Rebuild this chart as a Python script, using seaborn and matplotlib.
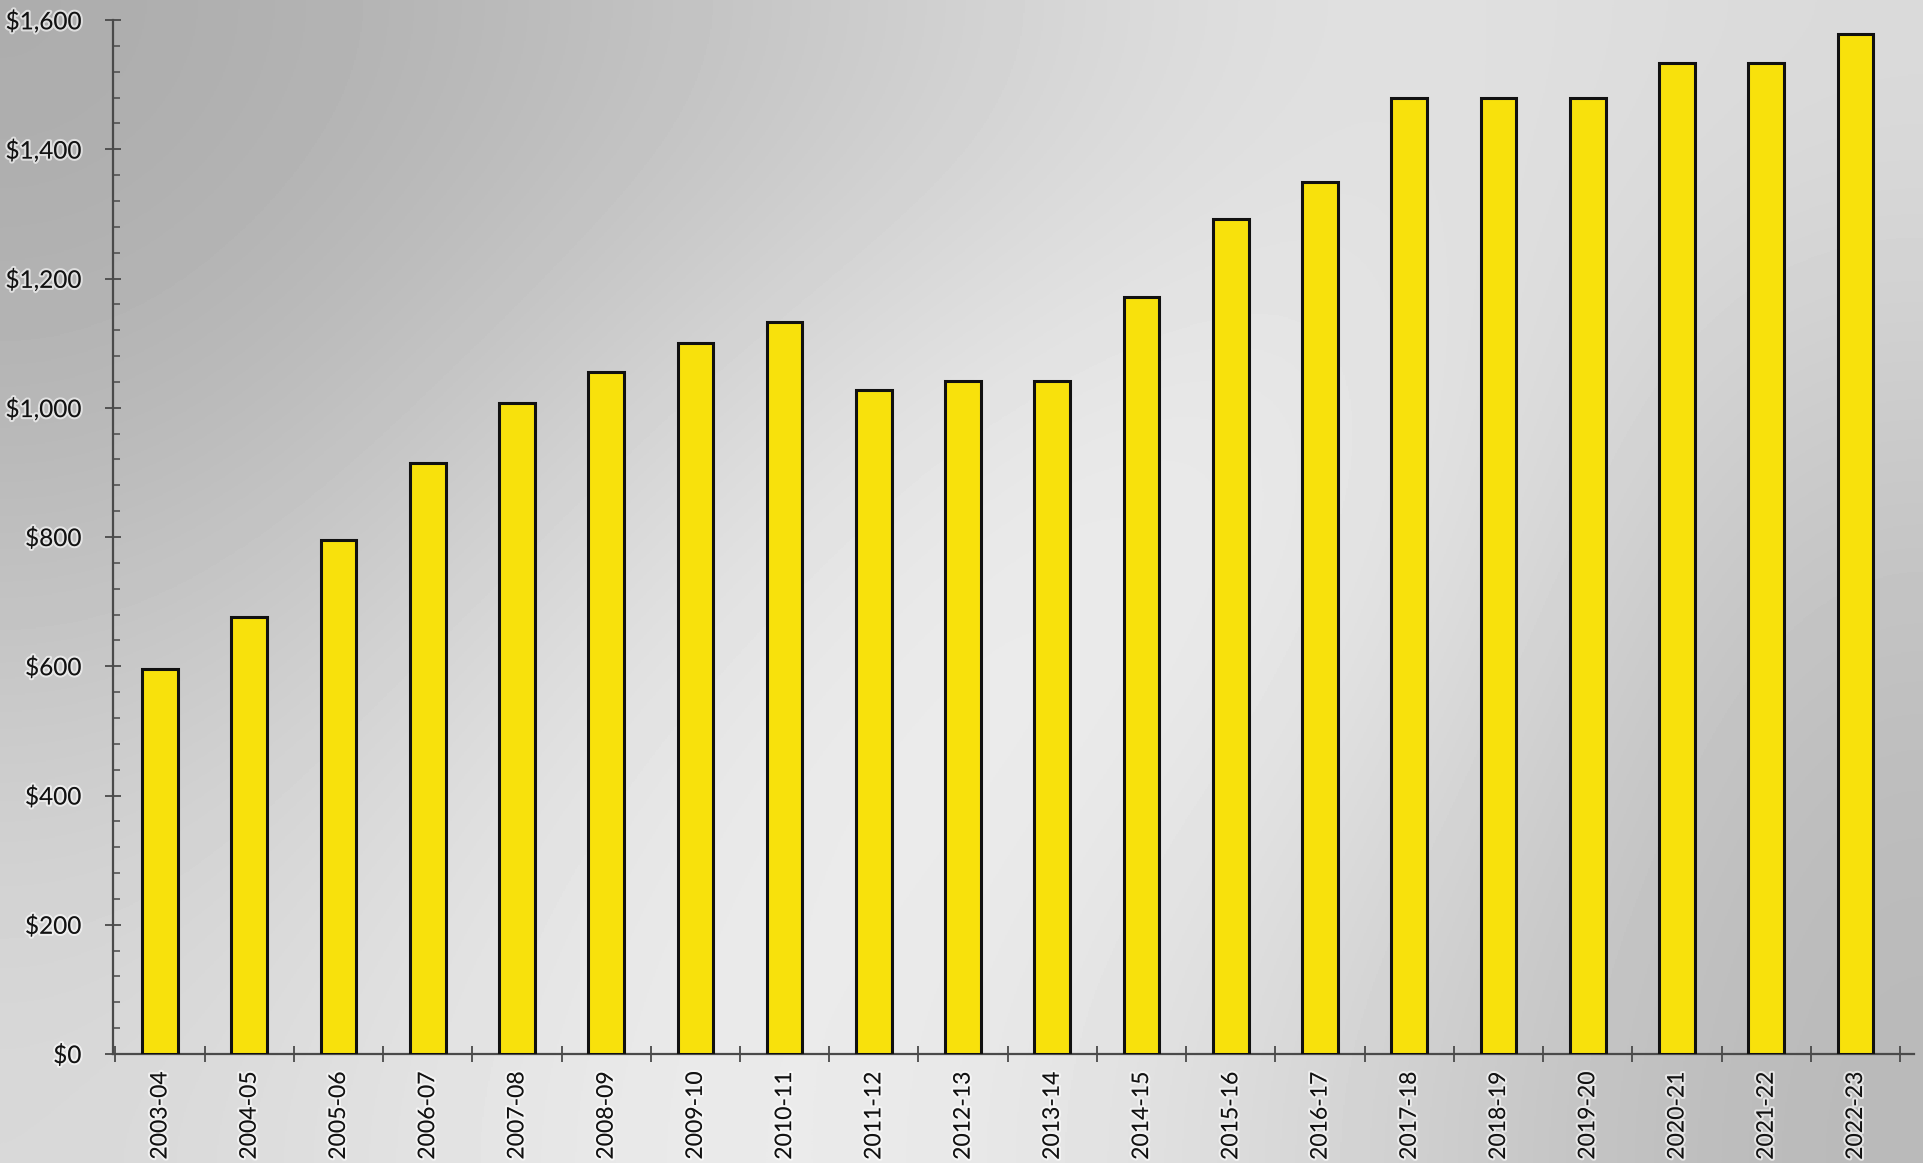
import numpy as np
import pandas as pd
import matplotlib
matplotlib.use("Agg")
import matplotlib.pyplot as plt
import matplotlib.patheffects as pe
from matplotlib.ticker import MultipleLocator, FuncFormatter
import seaborn as sns

years = ["2003-04", "2004-05", "2005-06", "2006-07", "2007-08", "2008-09", "2009-10",
         "2010-11", "2011-12", "2012-13", "2013-14", "2014-15", "2015-16", "2016-17",
         "2017-18", "2018-19", "2019-20", "2020-21", "2021-22", "2022-23"]
amounts = [595, 676, 796, 915, 1008, 1056, 1100, 1132, 1028, 1041, 1041, 1172,
           1292, 1350, 1480, 1480, 1480, 1533, 1533, 1579]
y_ticks = [0, 200, 400, 600, 800, 1000, 1200, 1400, 1600]

df = pd.DataFrame({"year": years, "amount": amounts})

plt.rcParams['font.family'] = ['Lato', 'DejaVu Sans']

W, H = 1924, 1163
fig = plt.figure(figsize=(W / 100, H / 100), dpi=100)

# background gradient (scanned grey look)
bg = fig.add_axes([0, 0, 1, 1], zorder=-10)
grid = np.array([
    [172, 188, 208, 228, 218],
    [182, 208, 234, 238, 200],
    [202, 228, 240, 228, 188],
    [216, 234, 236, 212, 184],
]) / 255.0
bg.imshow(grid, cmap="gray", vmin=0, vmax=1, interpolation="bicubic",
          extent=[0, 1, 0, 1], aspect="auto")
bg.set_axis_off()

ax = fig.add_axes([0.0587, 0.0937, 0.9363, 0.8891])
ax.set_facecolor("none")

sns.barplot(data=df, x="year", y="amount", color="#F8E10C", saturation=1,
            edgecolor="#111111", linewidth=2.2, width=0.4, ax=ax, zorder=3)

ax.set_xlim(-0.527, 19.66)
ax.set_ylim(0, 1600)
ax.set_xlabel("")
ax.set_ylabel("")

for s in ["top", "right"]:
    ax.spines[s].set_visible(False)
for s in ["left", "bottom"]:
    ax.spines[s].set_color("#4a4a4a")
    ax.spines[s].set_linewidth(1.6)

ax.set_yticks(y_ticks)
ax.yaxis.set_major_formatter(FuncFormatter(lambda v, p: f"${int(v):,}"))
ax.yaxis.set_minor_locator(MultipleLocator(40))
ax.tick_params(axis="y", which="major", direction="inout", length=11.5, width=1.3,
               color="#4a4a4a", pad=17, labelsize=17.5, labelcolor="#111111")
ax.tick_params(axis="y", which="minor", direction="in", length=5, width=1.1,
               color="#4a4a4a")

ax.set_xticks(range(len(years)))
ax.set_xticklabels(years, rotation=90, va="top", ha="center")
ax.set_xticks([i - 0.5 for i in range(len(years) + 1)], minor=True)
ax.tick_params(axis="x", which="major", length=0, pad=13, labelsize=16.5,
               labelcolor="#111111")
ax.tick_params(axis="x", which="minor", direction="inout", length=11.5, width=1.3,
               color="#4a4a4a")

halo = [pe.withStroke(linewidth=3, foreground=(1, 1, 1, 0.6))]
for t in ax.get_xticklabels() + ax.get_yticklabels():
    t.set_path_effects(halo)

fig.savefig("out.png", dpi=100)
